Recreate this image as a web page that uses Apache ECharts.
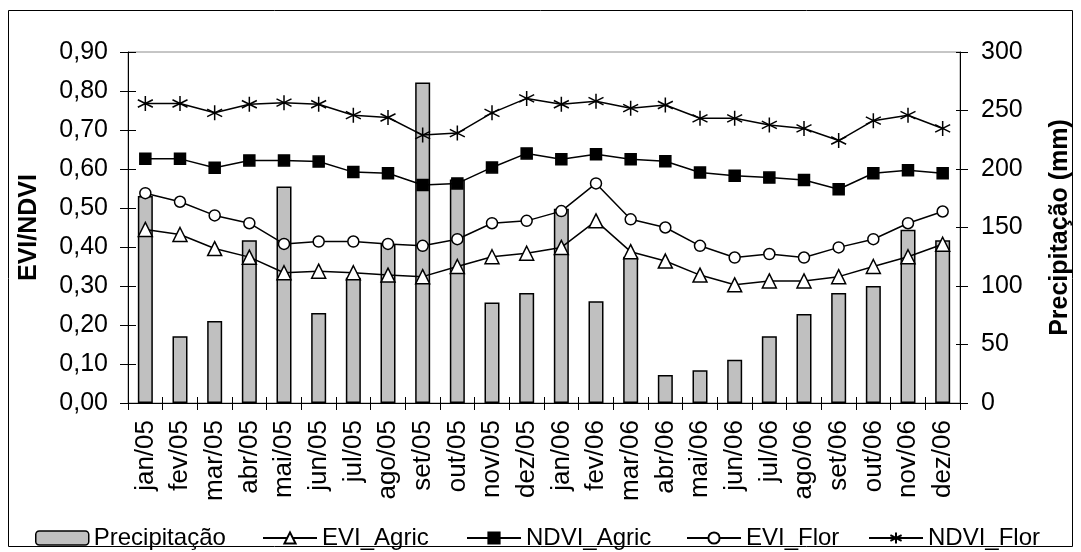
<!DOCTYPE html>
<html><head><meta charset="utf-8">
<script src="https://cdn.jsdelivr.net/npm/echarts@6/dist/echarts.min.js"></script>
<style>html,body{margin:0;padding:0;background:#fff}#c{width:1081px;height:552px}</style>
</head><body><div id="c"></div>
<script>
const categories = ['jan/05','fev/05','mar/05','abr/05','mai/05','jun/05','jul/05','ago/05','set/05','out/05','nov/05','dez/05','jan/06','fev/06','mar/06','abr/06','mai/06','jun/06','jul/06','ago/06','set/06','out/06','nov/06','dez/06'];
const precipitacao = [177,57,70,139,185,77,107,136,274,191,86,94,166,87,125,24,28,37,57,76,94,100,148,139];
const eviAgric = [0.445,0.432,0.396,0.374,0.334,0.338,0.334,0.328,0.324,0.350,0.375,0.384,0.399,0.467,0.388,0.364,0.328,0.303,0.313,0.313,0.324,0.350,0.375,0.407];
const ndviAgric = [0.626,0.626,0.603,0.622,0.622,0.619,0.592,0.589,0.559,0.563,0.604,0.640,0.625,0.638,0.625,0.620,0.591,0.583,0.578,0.572,0.548,0.589,0.597,0.589];
const eviFlor = [0.538,0.516,0.481,0.461,0.408,0.414,0.414,0.408,0.403,0.420,0.461,0.467,0.492,0.563,0.471,0.450,0.403,0.373,0.382,0.373,0.399,0.420,0.461,0.491];
const ndviFlor = [0.768,0.768,0.744,0.766,0.770,0.766,0.738,0.732,0.687,0.692,0.744,0.781,0.766,0.774,0.756,0.764,0.730,0.730,0.713,0.704,0.673,0.724,0.738,0.704];
const leftTicks = {min:0, max:0.9, interval:0.1};
const rightTicks = {min:0, max:300, interval:50};

const FONT = 'Liberation Sans, Arial, sans-serif';
const star = 'path://M0,-10L0,10M-8.66,-5L8.66,5M-8.66,5L8.66,-5';
const chart = echarts.init(document.getElementById('c'), null, {renderer:'canvas'});
function lineSeries(name, data, symbol, size, fill){
  return {name, type:'line', data, yAxisIndex:0, symbol, symbolSize:size,
    lineStyle:{color:'#000', width:1.5},
    itemStyle:{color:fill, borderColor:'#000', borderWidth:1.5},
    emphasis:{disabled:true}, animation:false, z:3};
}
function leg(name, left, w){
  return {data:[name], left, top:526, padding:0, itemWidth:w, itemHeight:14, itemGap:5,
    textStyle:{fontFamily:FONT, fontSize:24, color:'#000', padding:[0,0,0,0]}, selectedMode:false};
}
const black = {color:'#000', width:1};
chart.setOption({
  animation:false,
  backgroundColor:'#fff',
  grid:{left:128, right:117, top:52, bottom:149, show:true, borderColor:'#8c8c8c', borderWidth:1},
  graphic:[{type:'rect', shape:{x:8.5,y:10.5,width:1064,height:536}, style:{fill:'none', stroke:'#000', lineWidth:1}, silent:true}],
  xAxis:[
    {type:'category', data:categories, boundaryGap:true,
     axisLine:{lineStyle:black},
     axisTick:{show:true, interval:0, length:7, lineStyle:black},
     axisLabel:{interval:0, rotate:90, fontFamily:FONT, fontSize:26, color:'#000', margin:17}},
    {type:'category', data:categories, boundaryGap:true, position:'bottom',
     axisLine:{show:false},
     axisTick:{show:true, inside:true, interval:0, length:6, lineStyle:black},
     axisLabel:{show:false}}
  ],
  yAxis:[
    {type:'value', min:leftTicks.min, max:leftTicks.max, interval:leftTicks.interval, position:'left',
     name:'EVI/NDVI', nameLocation:'middle', nameRotate:90, nameGap:86,
     nameTextStyle:{fontFamily:FONT, fontSize:25, fontWeight:'bold', color:'#000'},
     axisLine:{show:true, lineStyle:black}, axisTick:{show:true, length:8, lineStyle:black},
     splitLine:{show:false},
     axisLabel:{fontFamily:FONT, fontSize:25, color:'#000', margin:20, formatter:v=>v.toFixed(2).replace('.',',')}},
    {type:'value', min:rightTicks.min, max:rightTicks.max, interval:rightTicks.interval, position:'right',
     name:'Precipitação (mm)', nameLocation:'middle', nameRotate:90, nameGap:88,
     nameTextStyle:{fontFamily:FONT, fontSize:25, fontWeight:'bold', color:'#000'},
     axisLine:{show:true, lineStyle:black}, axisTick:{show:true, length:8, lineStyle:black},
     splitLine:{show:false},
     axisLabel:{fontFamily:FONT, fontSize:25, color:'#000', margin:21}},
    {type:'value', min:leftTicks.min, max:leftTicks.max, interval:leftTicks.interval, position:'left',
     axisLine:{show:false}, axisTick:{show:true, inside:true, length:8, lineStyle:black},
     splitLine:{show:false}, axisLabel:{show:false}},
    {type:'value', min:rightTicks.min, max:rightTicks.max, interval:rightTicks.interval, position:'right',
     axisLine:{show:false}, axisTick:{show:true, inside:true, length:4, lineStyle:black},
     splitLine:{show:false}, axisLabel:{show:false}}
  ],
  legend:[
    Object.assign(leg('Precipitação', 35, 53), {itemStyle:{color:'#c0c0c0', borderColor:'#000', borderWidth:1.5}}),
    leg('EVI_Agric', 262, 54),
    leg('NDVI_Agric', 466, 54),
    leg('EVI_Flor', 686, 54),
    leg('NDVI_Flor', 868, 54)
  ],
  series:[
    {name:'Precipitação', type:'bar', data:precipitacao, yAxisIndex:1, barWidth:15,
     itemStyle:{color:'#c0c0c0', borderColor:'#000', borderWidth:1.5}, emphasis:{disabled:true}, z:2},
    lineSeries('EVI_Agric', eviAgric, 'triangle', 14, '#fff'),
    lineSeries('NDVI_Agric', ndviAgric, 'rect', 11, '#000'),
    lineSeries('EVI_Flor', eviFlor, 'circle', 11, '#fff'),
    lineSeries('NDVI_Flor', ndviFlor, star, 15, '#000')
  ]
});
</script></body></html>
